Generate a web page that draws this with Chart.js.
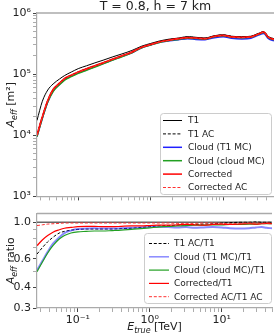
<!DOCTYPE html>
<html>
<head>
<meta charset="utf-8">
<script src="https://cdn.jsdelivr.net/npm/chart.js@4.4.1/dist/chart.umd.min.js"></script>
<style>
  html, body { margin: 0; padding: 0; background: #ffffff; }
  #wrap { position: relative; width: 274px; height: 335px; overflow: hidden; }
  #topChart { position: absolute; left: 0; top: 0; }
  #ratioChart { position: absolute; left: 0; top: 205px; }
</style>
</head>
<body>
<div id="wrap">
  <canvas id="topChart" width="274" height="205"></canvas>
  <canvas id="ratioChart" width="274" height="130"></canvas>
</div>
<script>
const FONT = "'DejaVu Sans', sans-serif";

/* =========================
   Data
========================= */
const energies = [0.027, 0.032, 0.038, 0.045, 0.055, 0.065, 0.08, 0.1, 0.13, 0.17, 0.22, 0.3, 0.4, 0.55, 0.75,
  1.0, 1.3, 1.8, 2.4, 3.2, 4.2, 5.6, 7.5, 10, 13, 18, 24, 30, 36, 42, 50];

// effective area [m^2]
const aeffT1 = [1.75e4, 3.6e4, 5.5e4, 6.9e4, 8.3e4, 9.5e4, 1.08e5, 1.23e5, 1.37e5, 1.53e5, 1.69e5, 1.92e5, 2.14e5, 2.44e5, 2.87e5,
  3.18e5, 3.47e5, 3.74e5, 3.89e5, 4.1e5, 4.0e5, 3.9e5, 4.25e5, 4.4e5, 4.17e5, 4.1e5, 4.17e5, 4.6e5, 4.94e5, 4.1e5, 3.8e5];
const aeffT1AC = [1.03e4, 2.05e4, 3.75e4, 5.65e4, 7.15e4, 8.55e4, 9.65e4, 1.09e5, 1.23e5, 1.38e5, 1.54e5, 1.77e5, 2.0e5, 2.3e5, 2.77e5,
  3.08e5, 3.4e5, 3.68e5, 3.85e5, 4.06e5, 3.97e5, 3.87e5, 4.22e5, 4.38e5, 4.15e5, 4.08e5, 4.16e5, 4.58e5, 4.92e5, 4.08e5, 3.78e5];
const aeffCloudT1MC = [0.95e4, 1.9e4, 3.5e4, 5.3e4, 6.8e4, 8.2e4, 9.3e4, 1.05e5, 1.18e5, 1.33e5, 1.49e5, 1.72e5, 1.95e5, 2.24e5, 2.7e5,
  3.0e5, 3.3e5, 3.5e5, 3.65e5, 3.8e5, 3.7e5, 3.65e5, 3.95e5, 4.1e5, 3.85e5, 3.75e5, 3.85e5, 4.3e5, 4.6e5, 3.8e5, 3.5e5];
const aeffCloudMC = [0.95e4, 1.9e4, 3.5e4, 5.2e4, 6.7e4, 8.0e4, 9.1e4, 1.03e5, 1.16e5, 1.31e5, 1.47e5, 1.7e5, 1.93e5, 2.24e5, 2.7e5,
  3.0e5, 3.3e5, 3.55e5, 3.7e5, 3.88e5, 3.83e5, 3.75e5, 4.08e5, 4.25e5, 4.0e5, 3.95e5, 4.02e5, 4.45e5, 4.8e5, 3.95e5, 3.65e5];
const aeffCorrected = [1.0e4, 2.0e4, 3.7e4, 5.6e4, 7.1e4, 8.5e4, 9.6e4, 1.08e5, 1.22e5, 1.37e5, 1.53e5, 1.76e5, 1.99e5, 2.29e5, 2.75e5,
  3.05e5, 3.35e5, 3.6e5, 3.8e5, 3.95e5, 3.9e5, 3.8e5, 4.15e5, 4.3e5, 4.07e5, 4.0e5, 4.07e5, 4.5e5, 4.85e5, 4.0e5, 3.7e5];
const aeffCorrectedAC = [1.0e4, 2.0e4, 3.7e4, 5.55e4, 7.05e4, 8.45e4, 9.55e4, 1.08e5, 1.21e5, 1.36e5, 1.52e5, 1.75e5, 1.98e5, 2.28e5, 2.74e5,
  3.04e5, 3.34e5, 3.59e5, 3.78e5, 3.93e5, 3.88e5, 3.79e5, 4.13e5, 4.28e5, 4.04e5, 3.98e5, 4.05e5, 4.48e5, 4.83e5, 3.99e5, 3.69e5];

// ratios
const ratioT1AC = [0.64, 0.70, 0.76, 0.81, 0.86, 0.88, 0.895, 0.905, 0.91, 0.91, 0.91, 0.91, 0.915, 0.92, 0.93,
  0.94, 0.95, 0.955, 0.96, 0.965, 0.97, 0.975, 0.98, 0.99, 0.995, 1.0, 1.0, 1.005, 1.0, 1.0, 1.0];
const ratioCloudT1MC = [0.51, 0.58, 0.66, 0.74, 0.81, 0.86, 0.89, 0.91, 0.915, 0.92, 0.915, 0.915, 0.92, 0.925, 0.93,
  0.935, 0.94, 0.935, 0.93, 0.935, 0.925, 0.93, 0.935, 0.93, 0.92, 0.915, 0.92, 0.93, 0.935, 0.925, 0.92];
const ratioCloudMC = [0.50, 0.57, 0.65, 0.72, 0.79, 0.83, 0.86, 0.875, 0.88, 0.885, 0.885, 0.89, 0.895, 0.905, 0.915,
  0.925, 0.935, 0.945, 0.95, 0.955, 0.96, 0.96, 0.965, 0.965, 0.97, 0.97, 0.975, 0.975, 0.98, 0.98, 0.98];
const ratioCorrected = [0.72, 0.78, 0.83, 0.87, 0.90, 0.92, 0.93, 0.94, 0.945, 0.945, 0.94, 0.94, 0.945, 0.95, 0.95,
  0.955, 0.96, 0.96, 0.965, 0.97, 0.965, 0.96, 0.97, 0.975, 0.97, 0.975, 0.98, 0.975, 0.98, 0.985, 0.98];
const ratioCorrectedAC = [0.955, 0.965, 0.975, 0.98, 0.985, 0.99, 0.99, 0.99, 0.99, 0.99, 0.99, 0.99, 0.99, 0.99, 0.99,
  0.99, 0.99, 0.99, 0.985, 0.985, 0.985, 0.99, 0.99, 0.985, 0.98, 0.985, 0.99, 0.99, 0.985, 0.99, 0.99];
const unityX = [0.027, 50];
const unityY = [1, 1];

// axes
const xRange = [0.027, 50];
const aeffRange = [1e3, 1e6];
const ratioRange = [0.3, 1.13];
const xMajor = [0.1, 1, 10];
const xMajorLabels = ['10\u207B\u00B9', '10\u2070', '10\u00B9'];
const aeffMajor = [1e3, 1e4, 1e5, 1e6];
const aeffMajorLabels = ['10\u00B3', '10\u2074', '10\u2075', '10\u2076'];
const ratioMajor = [0.3, 0.4, 0.6, 1.0];
const ratioMajorLabels = ['0.3', '0.4', '0.6', '1.0'];

/* =========================
   Helpers
========================= */
const pts = (xs, ys) => ys.map((y, i) => ({ x: xs[i], y }));
const same = (a, b) => Math.abs(a - b) / b < 1e-6;

function logTicks(min, max) {
  const out = [];
  for (let e = Math.floor(Math.log10(min)); e <= Math.ceil(Math.log10(max)); e++) {
    for (let m = 1; m < 10; m++) {
      const v = +(m * Math.pow(10, e)).toPrecision(3);
      if (v >= min * 0.999 && v <= max * 1.001) out.push(v);
    }
  }
  return out;
}

function logAxis(range, majors, labels, showLabels, fit) {
  const isMajor = v => majors.some(m => same(v, m));
  return {
    type: 'logarithmic',
    min: range[0],
    max: range[1],
    afterBuildTicks: axis => {
      axis.ticks = logTicks(range[0], range[1]).map(v => ({ value: v }));
    },
    afterFit: fit,
    ticks: {
      display: showLabels,
      autoSkip: false,
      maxRotation: 0,
      padding: 2,
      color: '#222',
      font: { family: FONT, size: 11 },
      callback: v => {
        const i = majors.findIndex(m => same(v, m));
        return i >= 0 ? labels[i] : '';
      }
    },
    grid: {
      drawOnChartArea: false,
      drawTicks: true,
      tickLength: 4,
      tickColor: ctx => (ctx.tick && isMajor(ctx.tick.value)) ? '#444' : '#888',
      tickWidth: ctx => (ctx.tick && isMajor(ctx.tick.value)) ? 1 : 0.7
    },
    border: { color: '#aaa', width: 1.2 }
  };
}

function line(label, xs, ys, color, width, dash, order) {
  return {
    label,
    data: pts(xs, ys),
    borderColor: color,
    backgroundColor: color,
    borderWidth: width,
    borderDash: dash || [],
    pointRadius: 0,
    fill: false,
    cubicInterpolationMode: 'monotone',
    order
  };
}

function drawParts(ctx, parts, cx, cy, rotated) {
  let w = 0;
  parts.forEach(p => {
    ctx.font = (p.it ? 'italic ' : '') + (p.sub ? 8 : 11) + 'px ' + FONT;
    p.w = ctx.measureText(p.t).width;
    w += p.w;
  });
  ctx.save();
  ctx.translate(cx, cy);
  if (rotated) ctx.rotate(-Math.PI / 2);
  ctx.fillStyle = '#222';
  ctx.textBaseline = 'alphabetic';
  ctx.textAlign = 'left';
  let x = -w / 2;
  parts.forEach(p => {
    ctx.font = (p.it ? 'italic ' : '') + (p.sub ? 8 : 11) + 'px ' + FONT;
    ctx.fillText(p.t, x, p.sub ? 3 : 0);
    x += p.w;
  });
  ctx.restore();
}

/* =========================
   Decorations plugin: frame, title, axis labels, legend
========================= */
const decorPlugin = {
  id: 'decor',
  afterDraw(chart, args, o) {
    const ctx = chart.ctx;
    const a = chart.chartArea;
    ctx.save();
    ctx.strokeStyle = '#aaa';
    ctx.lineWidth = 1.5;
    ctx.beginPath();
    ctx.moveTo(a.left, a.top);
    ctx.lineTo(a.right, a.top);
    ctx.stroke();

    if (o.title) {
      ctx.fillStyle = '#222';
      ctx.font = '12.5px ' + FONT;
      ctx.textAlign = 'center';
      ctx.textBaseline = 'alphabetic';
      ctx.fillText(o.title, (a.left + a.right) / 2, 9.5);
    }
    if (o.yLabel) drawParts(ctx, o.yLabel, o.yLabelX, (a.top + a.bottom) / 2, true);
    if (o.xLabel) drawParts(ctx, o.xLabel, (a.left + a.right) / 2, o.xLabelY, false);

    const L = o.legend;
    if (L) {
      ctx.fillStyle = 'rgba(255,255,255,0.85)';
      ctx.strokeStyle = '#cccccc';
      ctx.lineWidth = 1;
      ctx.beginPath();
      ctx.roundRect(L.x + 0.5, L.y + 0.5, L.w, L.h, 3);
      ctx.fill();
      ctx.stroke();
      const items = chart.data.datasets.filter(d => d.label);
      items.forEach((d, i) => {
        const y = L.row0 + i * L.step;
        ctx.strokeStyle = d.borderColor;
        ctx.lineWidth = Math.min(d.borderWidth, 1.5);
        ctx.setLineDash(d.borderDash);
        ctx.beginPath();
        ctx.moveTo(L.s0, y);
        ctx.lineTo(L.s1, y);
        ctx.stroke();
        ctx.setLineDash([]);
        ctx.fillStyle = '#222';
        ctx.font = '9px ' + FONT;
        ctx.textAlign = 'left';
        ctx.textBaseline = 'middle';
        ctx.fillText(d.label, L.tx, y + 0.5);
      });
    }
    ctx.restore();
  }
};

const DASH = [3, 1.8];
const GREEN = '#22a022';

/* =========================
   Effective area panel
========================= */
new Chart(document.getElementById('topChart'), {
  type: 'line',
  data: {
    datasets: [
      line('T1', energies, aeffT1, '#000000', 1, null, 6),
      line('T1 AC', energies, aeffT1AC, '#000000', 1, DASH, 5),
      line('Cloud (T1 MC)', energies, aeffCloudT1MC, '#2020ff', 1.5, null, 4),
      line('Cloud (cloud MC)', energies, aeffCloudMC, GREEN, 1.5, null, 3),
      line('Corrected', energies, aeffCorrected, '#ff0000', 1.7, null, 2),
      line('Corrected AC', energies, aeffCorrectedAC, '#ff3030', 1, DASH, 1)
    ]
  },
  options: {
    responsive: false,
    animation: false,
    layout: { padding: { top: 13, left: 0, right: 0, bottom: 0 } },
    plugins: {
      legend: { display: false },
      tooltip: { enabled: false },
      decor: {
        title: 'T = 0.8, h = 7 km',
        yLabel: [{ t: 'A', it: true }, { t: 'eff', it: true, sub: true }, { t: ' [m\u00B2]' }],
        yLabelX: 14,
        legend: { x: 160, y: 113, w: 111, h: 81, row0: 120.5, step: 13.4, s0: 163, s1: 182, tx: 188 }
      }
    },
    scales: {
      x: logAxis(xRange, xMajor, xMajorLabels, false, s => { s.height = 7; }),
      y: logAxis(aeffRange, aeffMajor, aeffMajorLabels, true, s => { s.width = 37; })
    }
  },
  plugins: [decorPlugin]
});

/* =========================
   Ratio panel
========================= */
new Chart(document.getElementById('ratioChart'), {
  type: 'line',
  data: {
    datasets: [
      line('', unityX, unityY, '#666666', 1.5, null, 7),
      line('T1 AC/T1', energies, ratioT1AC, '#000000', 1, DASH, 5),
      line('Cloud (T1 MC)/T1', energies, ratioCloudT1MC, 'rgba(40,40,255,0.55)', 2, null, 4),
      line('Cloud (cloud MC)/T1', energies, ratioCloudMC, GREEN, 1.2, null, 3),
      line('Corrected/T1', energies, ratioCorrected, '#ff0000', 1.2, null, 2),
      line('Corrected AC/T1 AC', energies, ratioCorrectedAC, '#ff3030', 1, DASH, 1)
    ]
  },
  options: {
    responsive: false,
    animation: false,
    layout: { padding: { top: 8, left: 0, right: 0, bottom: 0 } },
    plugins: {
      legend: { display: false },
      tooltip: { enabled: false },
      decor: {
        yLabel: [{ t: 'A', it: true }, { t: 'eff', it: true, sub: true }, { t: ' ratio' }],
        yLabelX: 14,
        xLabel: [{ t: 'E', it: true }, { t: 'true', it: true, sub: true }, { t: ' [TeV]' }],
        xLabelY: 125,
        legend: { x: 144, y: 28, w: 127, h: 70, row0: 38.5, step: 13.3, s0: 149, s1: 169, tx: 174 }
      }
    },
    scales: {
      x: logAxis(xRange, xMajor, xMajorLabels, true, s => { s.height = 27; }),
      y: logAxis(ratioRange, ratioMajor, ratioMajorLabels, true, s => { s.width = 37; })
    }
  },
  plugins: [decorPlugin]
});
</script>
</body>
</html>
